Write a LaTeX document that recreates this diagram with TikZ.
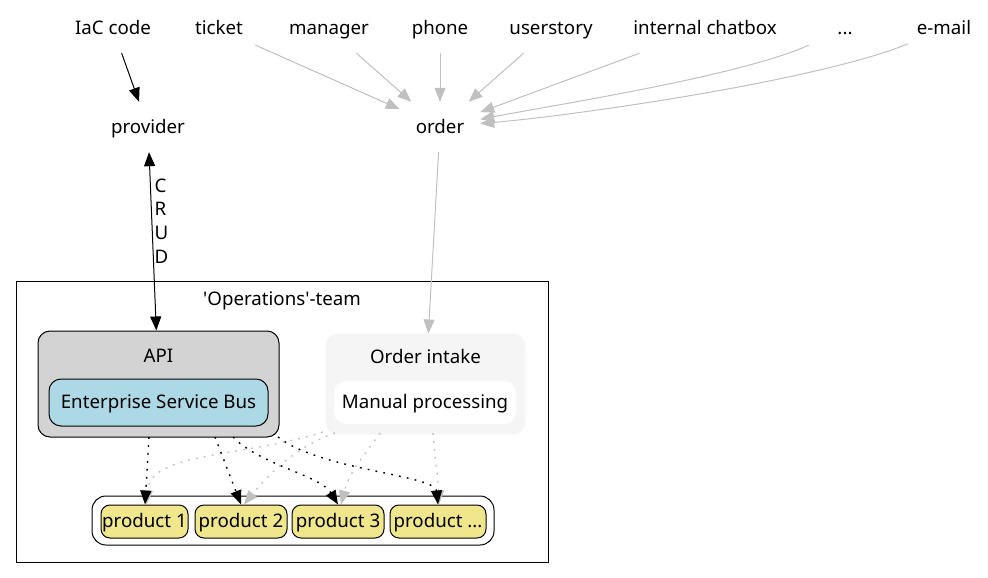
\documentclass[tikz,border=0pt]{standalone}
\usepackage{fontspec}
\setmainfont{Noto Sans}[Ligatures=TeXOff]
\usetikzlibrary{arrows.meta,calc}
\definecolor{edgegray}{HTML}{C0C0C0}
\definecolor{apigray}{HTML}{D3D3D3}
\definecolor{esbblue}{HTML}{ADD8E6}
\definecolor{oifill}{HTML}{F5F5F5}
\definecolor{prodfill}{HTML}{F0E68C}
\tikzset{
  txt/.style={font=\fontsize{18.7}{23.7}\selectfont, text height=12pt, text depth=0pt, inner sep=0pt},
  src/.style={txt, rectangle, minimum width=72pt, minimum height=48pt},
  tipA/.style={-{Triangle[length=14pt,width=11pt]}},
  blk/.style={draw=black, line width=1pt, tipA},
  gry/.style={draw=edgegray, line width=1pt, tipA},
  dotted line/.style={line width=1.4pt, dash pattern=on 1.8pt off 6.2pt},
  clusterbox/.style={rectangle, inner sep=0pt, line width=1pt},
  prod/.style={txt, rectangle, rounded corners=9pt, draw=black, fill=prodfill, line width=1pt, minimum height=33pt},
}
\begin{document}
\begin{tikzpicture}[x=1pt,y=-1pt]
\useasboundingbox (0,0) rectangle (988,578);

% top row
\node[src] (iac) at (113,29) {IaC code};
\node[src] (ticket) at (219,29) {ticket};
\node[src] (manager) at (329,29) {manager};
\node[src] (phone) at (440,29) {phone};
\node[src] (userstory) at (551,29) {userstory};
\node[src] (chatbox) at (705,29) {internal chatbox};
\node[src] (dots) at (845,29) {...};
\node[src] (email) at (944,29) {e-mail};

\node[src, minimum width=80pt, minimum height=50pt] (provider) at (148,127) {provider};
\node[src, minimum width=80pt, minimum height=50pt] (order) at (440,127) {order};

% clusters
\node[clusterbox, draw=black, minimum width=532pt, minimum height=281pt] (ops) at (282,421.5) {};
\node[txt] (opslabel) at (282,299) {'Operations'-team};

\node[clusterbox, draw=black, fill=apigray, rounded corners=12pt, minimum width=241pt, minimum height=106pt] (apicl) at (158.5,384) {};
\node[txt] (apilabel) at (158.5,356) {API};
\node[txt, draw=black, fill=esbblue, line width=1pt, rounded corners=12pt, minimum width=219pt, minimum height=47pt] (esb) at (158.5,402.5) {Enterprise Service Bus};

\node[clusterbox, draw=oifill, fill=oifill, rounded corners=12pt, minimum width=199pt, minimum height=100pt] (oicl) at (425.5,384) {};
\node[txt] (oilabel) at (425.5,357) {Order intake};
\node[txt, fill=white, rounded corners=12pt, minimum width=182pt, minimum height=43pt] (manual) at (425,402.5) {Manual processing};

\node[clusterbox, draw=black, fill=white, rounded corners=14pt, minimum width=402pt, minimum height=49pt] (prodcl) at (293,520.5) {};
\node[prod, minimum width=87pt] (p1) at (144.5,521.5) {product 1};
\node[prod, minimum width=92pt] (p2) at (241,521.5) {product 2};
\node[prod, minimum width=92pt] (p3) at (338,521.5) {product 3};
\node[prod, minimum width=96pt] (p4) at (438,521.5) {product ...};

% edges top
\draw[blk] (iac) -- (provider);
\draw[gry] (ticket) -- (order);
\draw[gry] (manager) -- (order);
\draw[gry] (phone) -- (order);
\draw[gry] (userstory) -- (order);
\draw[gry] (chatbox) -- (order);
\draw[gry] (dots) .. controls (740,76) and (560,104) .. (order);
\draw[gry] (email) .. controls (820,80) and (580,115) .. (order);

\draw[blk, {Triangle[length=14pt,width=11pt]}-{Triangle[length=14pt,width=11pt]}] (provider) -- (apicl);
\node[font=\fontsize{18.7}{23.7}\selectfont, inner sep=0pt, align=left] (crud) at (161.5,221) {C\\R\\U\\D};
\draw[gry] (order) -- (oicl);

% start coordinates on cluster bottoms
\coordinate (a1) at (149,437);
\coordinate (a2) at (215,437);
\coordinate (a3) at (233,437);
\coordinate (a4) at (278,437);
\coordinate (o1) at (323,432);
\coordinate (o2) at (335,433);
\coordinate (o3) at (380,433);
\coordinate (o4) at (433,433);

% gray dotted
\draw[gry, dotted line] (o1) .. controls (240,458) and (150,452) .. ($(p1.north)+(2,0)$);
\draw[gry, dotted line] (o2) .. controls (300,445) and (272,470) .. ($(p2.north)+(3,0)$);
\draw[gry, dotted line] (o3) .. controls (365,455) and (350,470) .. ($(p3.north)+(3,0)$);
\draw[gry, dotted line] (o4) .. controls (435,460) and (438,475) .. ($(p4.north)+(1,0)$);

% black dotted
\draw[blk, dotted line] (a1) -- ($(p1.north)+(0.5,0)$);
\draw[blk, dotted line] (a2) -- (p2.north);
\draw[blk, dotted line] (a3) .. controls (260,465) and (320,475) .. (p3.north);
\draw[blk, dotted line] (a4) .. controls (320,470) and (435,475) .. (p4.north);
\end{tikzpicture}
\end{document}
